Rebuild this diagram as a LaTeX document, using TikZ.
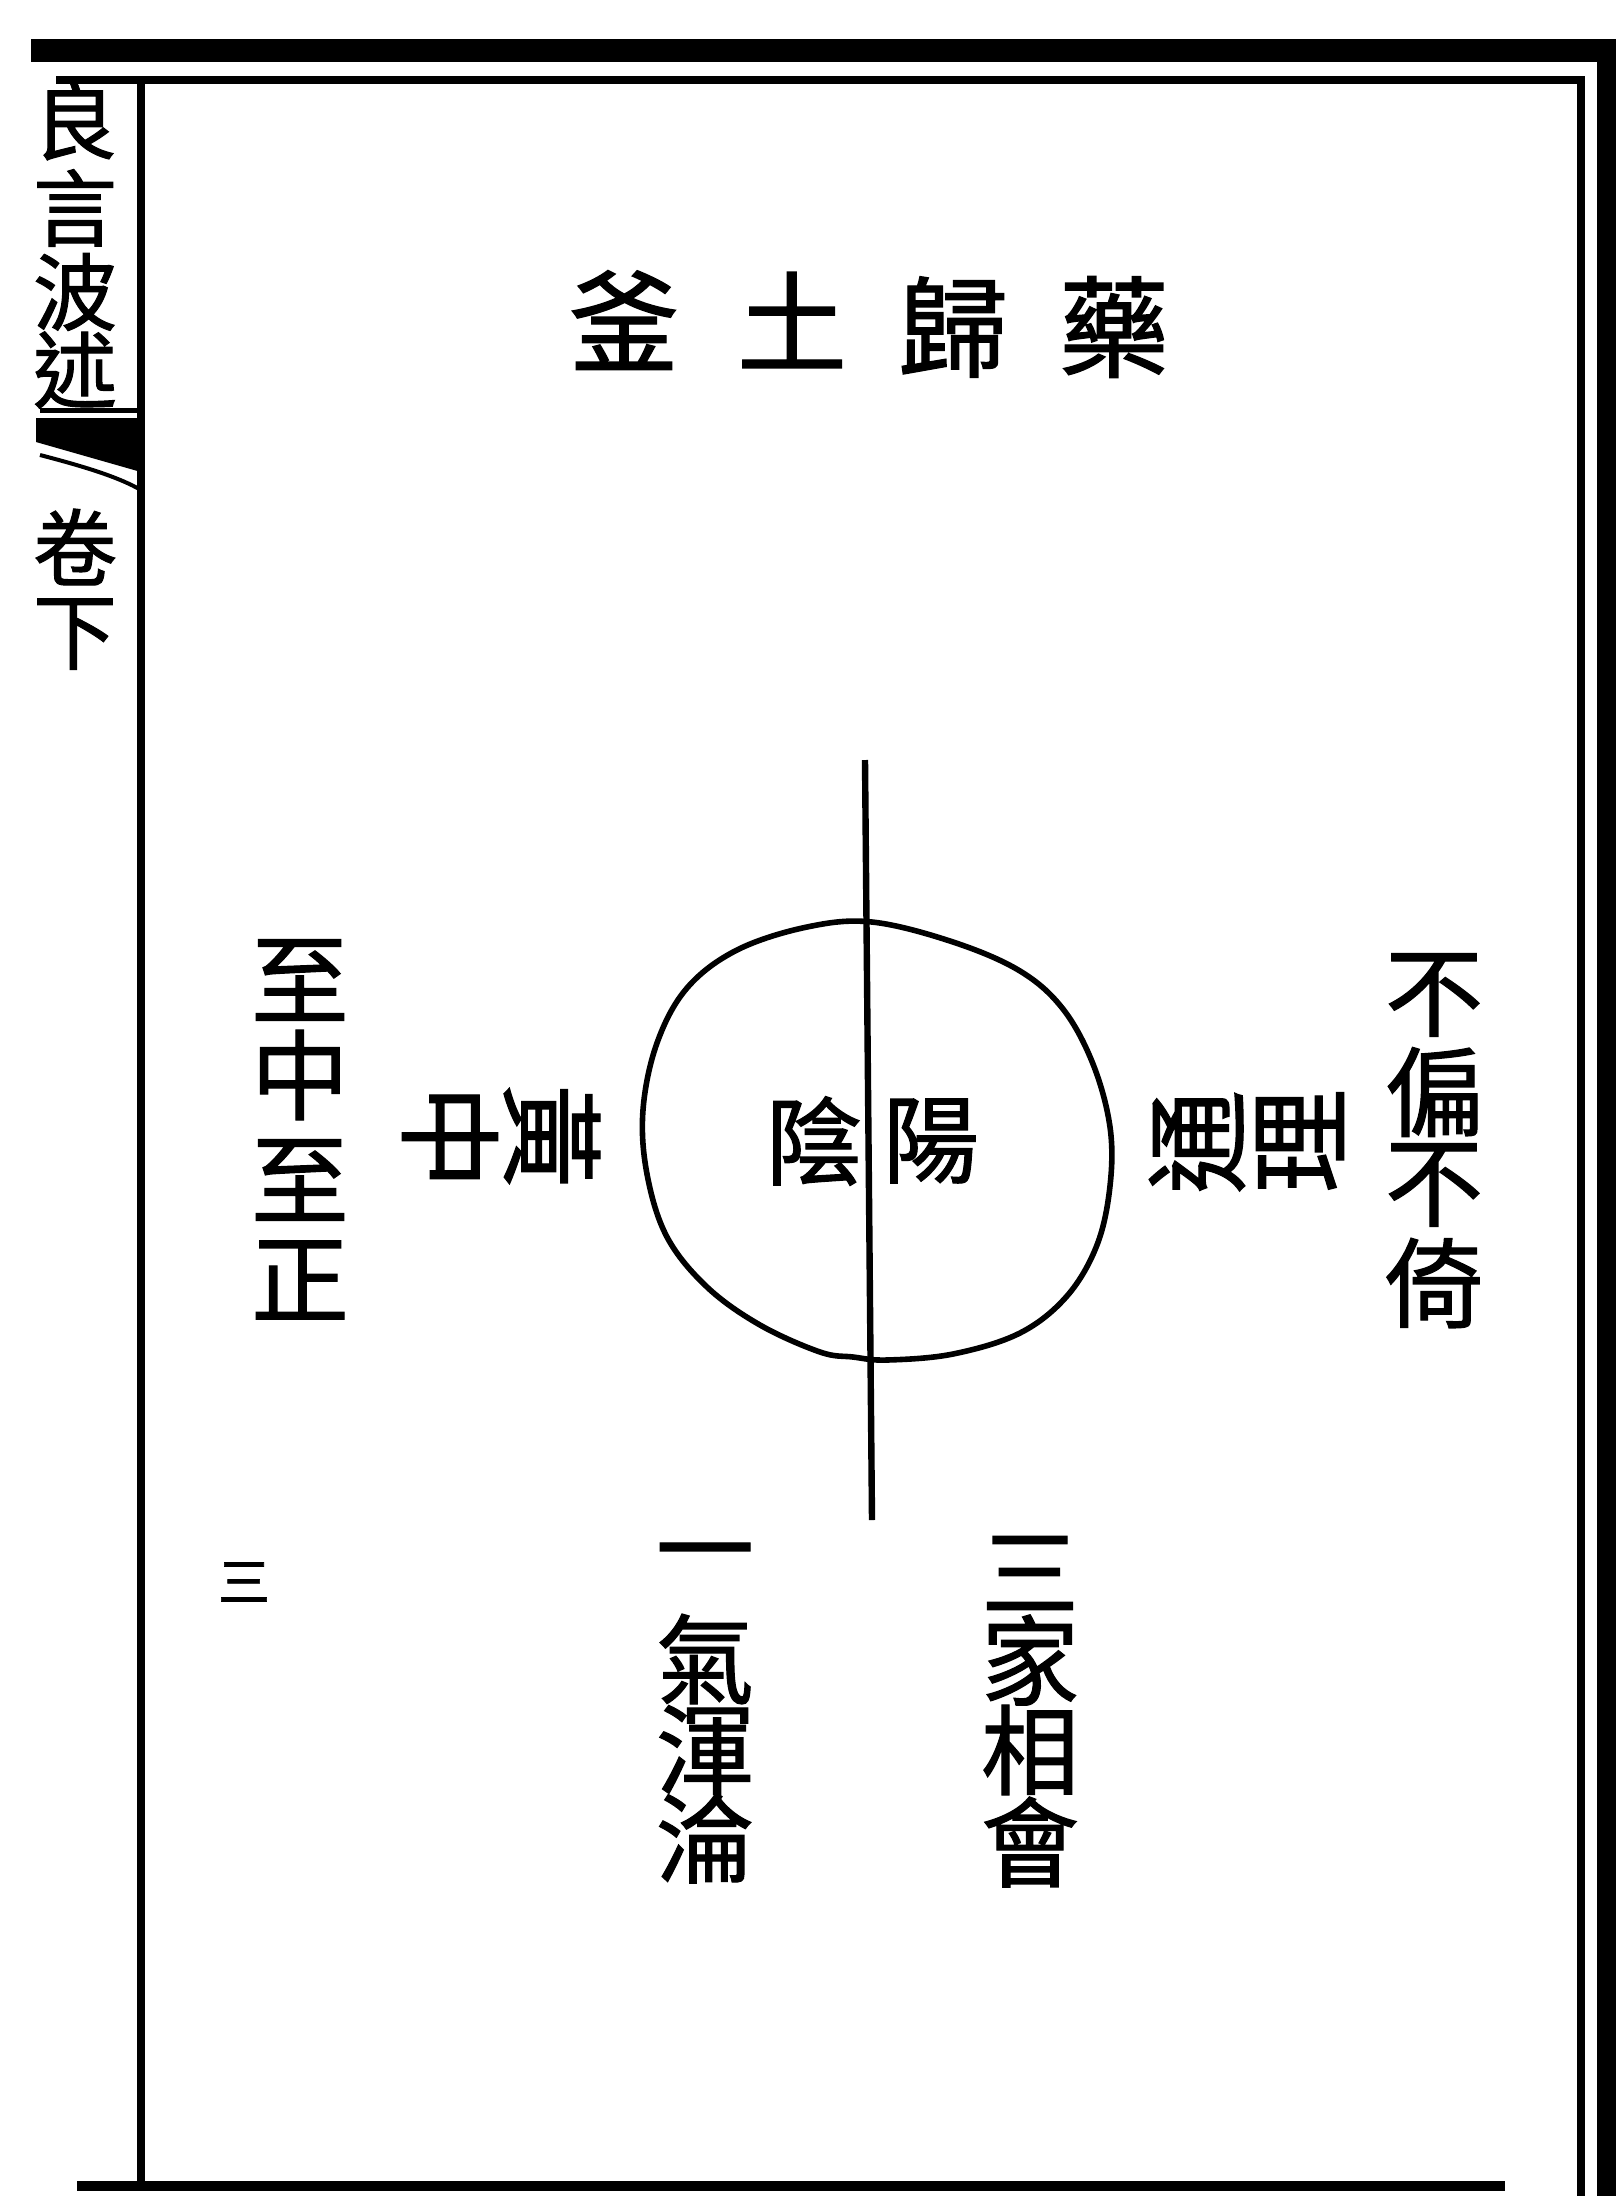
\documentclass[tikz,border=0pt]{standalone}
\usepackage{fontspec}
\newfontfamily\cjk{Noto Sans CJK TC}[FakeBold=1.2]
\begin{document}
\begin{tikzpicture}[x=0.5pt,y=-0.5pt,
  ch/.style={inner sep=0pt,font=\cjk\fontsize{49}{49}\selectfont},
  big/.style={inner sep=0pt,font=\cjk\fontsize{52}{52}\selectfont},
  top/.style={inner sep=0pt,font=\cjk\fontsize{55}{55}\selectfont},
  mid/.style={inner sep=0pt,font=\cjk\fontsize{48}{48}\selectfont},
  ttl/.style={inner sep=0pt,font=\cjk\fontsize{42}{42}\selectfont},
  pg/.style={inner sep=0pt,font=\cjk\fontsize{26}{26}\selectfont},
  rule/.style={line width=4pt},
  axis/.style={line width=3.2pt},
  ring/.style={line width=2.8pt}]
\useasboundingbox (0,0) rectangle (1616,2196);
\fill[white] (0,0) rectangle (1616,2196);
% frame
\fill[black] (31,39) rectangle (1616,62);
\fill[black] (1597,39) rectangle (1616,2196);
\coordinate (tl) at (60,80);
\coordinate (tr) at (1581,80);
\coordinate (br) at (1581,2196);
\coordinate (lt) at (141,80);
\coordinate (lb) at (141,2186);
\coordinate (bl) at (77,2186);
\coordinate (be) at (1505,2186);
\draw[rule,line cap=rect] (tl) -- (tr) -- (br);
\draw[rule] (lt) -- (lb);
\draw[line width=5pt] (bl) -- (be);
% title column box
\coordinate (bxl) at (40,410);
\coordinate (bxr) at (141,410);
\draw[line width=2.5pt] (bxl) -- (bxr);
\fill[black] (36,418) -- (141,418) -- (141,472) -- (36,442) -- cycle;
\coordinate (cl) at (40,455);
\coordinate (cr) at (141,490);
\draw[line width=2pt] (cl) .. controls (90,468) and (120,478) .. (cr);
\node[ttl] (t1) at (75,121) {良};
\node[ttl] (t2) at (75,208) {言};
\node[ttl] (t3) at (75,292) {波};
\node[ttl] (t4) at (75,370) {述};
\node[ttl] (t5) at (75,547) {卷};
\node[ttl] (t6) at (75,634) {下};
\node[pg] (p1) at (244,1582) {三};
% top
\node[top] (a1) at (624,320) {釜};
\node[top] (a2) at (792,320) {土};
\node[top] (a3) at (953,327) {歸};
\node[top] (a4) at (1114,327) {藥};
% axis and circle
\coordinate (vt) at (865,760);
\coordinate (vb) at (872,1520);
\draw[axis] (vt) -- (vb);
\draw[ring] plot[smooth cycle,tension=0.6] coordinates {
 (872,922) (953,942) (1020,971) (1063,1009) (1093,1064) (1110,1127)
 (1110,1186) (1097,1245) (1067,1296) (1020,1333) (953,1354) (887,1360)
 (853,1357) (820,1352) (760,1325) (707,1287) (667,1237) (647,1174)
 (643,1110) (657,1043) (687,988) (737,950) (807,927)};
\node[mid] (yin) at (814,1141) {陰};
\node[mid] (yang) at (931,1141) {陽};
% left
\node[ch] (l1) at (300,980) {至};
\node[ch] (l2) at (300,1075) {中};
\node[ch] (l3) at (300,1180) {至};
\node[ch] (l4) at (300,1280) {正};
\node[big,rotate=-90] (h1) at (552,1136) {黃};
\node[big,rotate=-90] (h2) at (450,1137) {中};
% right
\node[ch] (r1) at (1434,995) {不};
\node[ch] (r2) at (1434,1092) {偏};
\node[ch] (r3) at (1434,1185) {不};
\node[ch] (r4) at (1434,1283) {倚};
\node[big,rotate=90] (g1) at (1197,1142) {通};
\node[big,rotate=90] (g2) at (1300,1141) {理};
% bottom
\node[ch] (b1) at (705,1564) {一};
\node[ch] (b2) at (705,1659) {氣};
\node[ch] (b3) at (705,1750) {渾};
\node[ch] (b4) at (705,1838) {淪};
\node[ch] (c1) at (1030,1573) {三};
\node[ch] (c2) at (1030,1660) {家};
\node[ch] (c3) at (1030,1750) {相};
\node[ch] (c4) at (1030,1842) {會};
\end{tikzpicture}
\end{document}
